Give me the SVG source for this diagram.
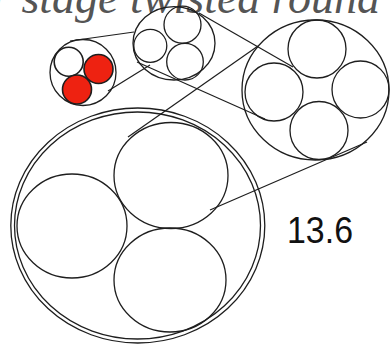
<svg xmlns="http://www.w3.org/2000/svg" width="390" height="346" viewBox="0 0 390 346">
<style>
.c{fill:none;stroke:#1e1e1e;stroke-width:1.3}
.w{fill:#ffffff;stroke:#1e1e1e;stroke-width:1.6}
.r{fill:#ee2211;stroke:#1e1e1e;stroke-width:1.6}
.ln{fill:none;stroke:#1e1e1e;stroke-width:1.2}
.title{font-family:"Liberation Serif","Times New Roman",serif;font-style:italic;font-size:46px;fill:#555555}
.lbl{font-family:"Liberation Sans",Arial,sans-serif;font-size:36px;fill:#111111}
</style>
<rect width="390" height="346" fill="#ffffff"/>
<text class="title" x="-8" y="13">r stage twisted round</text>
<g id="connectors">
<line class="ln" x1="70" y1="41" x2="134" y2="32"/>
<line class="ln" x1="108" y1="91" x2="150" y2="65"/>
<line class="ln" x1="199" y1="13" x2="293" y2="67"/>
<line class="ln" x1="137" y1="62" x2="265" y2="119"/>
<line class="ln" x1="128" y1="137" x2="258" y2="46"/>
<line class="ln" x1="210" y1="210" x2="367" y2="142"/>
</g>
<g id="strand-3">
<circle class="c" cx="83" cy="72.5" r="33"/>
<circle class="w" cx="68.7" cy="61.7" r="14.5"/>
<circle class="r" cx="98.5" cy="69" r="14.5"/>
<circle class="r" cx="77" cy="89.5" r="14.5"/>
</g>
<g id="stage-2">
<ellipse class="c" cx="174" cy="43.3" rx="41" ry="36.7"/>
<circle class="c" cx="150.3" cy="45.8" r="16.5"/>
<circle class="c" cx="182.5" cy="24.7" r="18.5"/>
<circle class="c" cx="185" cy="61.7" r="18.3"/>
</g>
<g id="stage-3">
<ellipse class="c" cx="315.5" cy="90" rx="73.5" ry="70"/>
<circle class="c" cx="317" cy="49" r="29"/>
<circle class="c" cx="274" cy="92" r="29"/>
<circle class="c" cx="360.5" cy="89.5" r="28.5"/>
<circle class="c" cx="319" cy="130.5" r="29"/>
</g>
<g id="stage-4">
<ellipse class="c" cx="137.8" cy="225.5" rx="127" ry="117.5"/>
<ellipse class="c" cx="137.5" cy="225.5" rx="123" ry="113.5"/>
<ellipse class="c" cx="171" cy="175.5" rx="57" ry="53"/>
<ellipse class="c" cx="72" cy="226" rx="55" ry="52"/>
<ellipse class="c" cx="170" cy="280" rx="56" ry="52"/>
</g>
<g id="label">
<text class="lbl" x="287" y="243" textLength="66" lengthAdjust="spacingAndGlyphs">13.6</text>
</g>
</svg>
